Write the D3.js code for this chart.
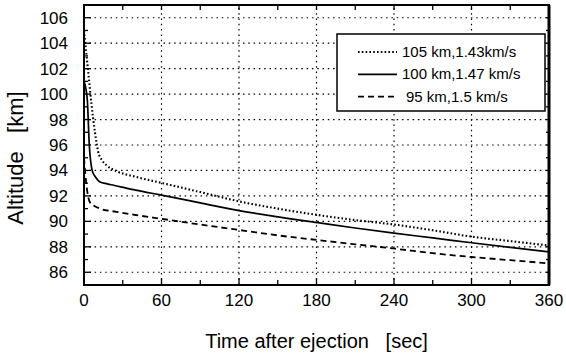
<!DOCTYPE html>
<html lang="en">
<head>
    <meta charset="UTF-8">
    <title>Altitude vs time after ejection</title>
    <script src="https://d3js.org/d3.v7.min.js"></script>
    <style>
        body { margin: 0; background: #fff; }
        svg { display: block; font-family: "Liberation Sans", Arial, sans-serif; }
        .grid line { stroke: #000; stroke-width: 1.2; stroke-dasharray: 1.5,3.8; }
        .tick-label { font-size: 17px; fill: #000; }
    </style>
</head>
<body>
<svg id="chart" width="566" height="356"></svg>
<script>
    // time (sec) and altitude (km) for each run
    const t105 = [0, 1.5, 3.3, 5.9, 8.5, 11, 14, 17.5, 25, 40, 61, 90, 121, 150, 181, 210, 240, 270, 300, 330, 360];
    const alt105 = [105, 103.5, 101.7, 99.1, 97.0, 95.45, 94.8, 94.4, 93.95, 93.5, 93.0, 92.3, 91.55, 91.0, 90.5, 90.1, 89.75, 89.3, 88.8, 88.45, 88.1];

    const t100 = [0, 1.5, 2.6, 4.1, 5.9, 7, 8.5, 12.4, 18, 23, 40, 60, 90, 121, 150, 181, 210, 240, 270, 300, 330, 360];
    const alt100 = [101, 100.4, 99.5, 96.0, 94.2, 93.8, 93.55, 93.1, 92.95, 92.84, 92.45, 92.06, 91.45, 90.83, 90.35, 89.9, 89.48, 89.07, 88.7, 88.32, 87.95, 87.6];

    const t95 = [0, 1.5, 3.3, 4.6, 8, 12.4, 25, 40, 60, 90, 124.6, 150, 181, 210, 241, 270, 300, 330, 360];
    const alt95 = [95, 93.2, 91.9, 91.5, 91.2, 91.0, 90.75, 90.5, 90.2, 89.75, 89.26, 88.9, 88.53, 88.2, 87.85, 87.5, 87.2, 86.95, 86.7];

    const xTicks = [0, 60, 120, 180, 240, 300, 360];
    const yTicks = [86, 88, 90, 92, 94, 96, 98, 100, 102, 104, 106];
    const labels = ["105 km,1.43km/s", "100 km,1.47 km/s", "95 km,1.5 km/s"];
    const dashes = ["1.6,2.2", null, "6,4"];

    const series = [
        { name: labels[0], dash: dashes[0], width: 2.1, pts: t105.map((t, i) => [t, alt105[i]]) },
        { name: labels[1], dash: dashes[1], width: 1.7, pts: t100.map((t, i) => [t, alt100[i]]) },
        { name: labels[2], dash: dashes[2], width: 1.8, pts: t95.map((t, i) => [t, alt95[i]]) }
    ];

    const margin = { top: 5, right: 17, bottom: 71, left: 84 };
    const width = 566, height = 356;
    const svg = d3.select("#chart");

    const x = d3.scaleLinear().domain([0, 360]).range([margin.left, width - margin.right]);
    const y = d3.scaleLinear().domain([85, 107]).range([height - margin.bottom, margin.top]);

    // grid
    const grid = svg.append("g").attr("class", "grid");
    grid.selectAll(".gx").data(xTicks.slice(1, -1)).enter().append("line")
        .attr("x1", d => x(d)).attr("x2", d => x(d))
        .attr("y1", y(85)).attr("y2", y(107));
    grid.selectAll(".gy").data(yTicks).enter().append("line")
        .attr("x1", x(0)).attr("x2", x(360))
        .attr("y1", d => y(d)).attr("y2", d => y(d));

    // inner ticks (major + minor) on all sides
    const ticks = svg.append("g").attr("stroke", "#000").attr("stroke-width", 1.3);
    d3.range(86, 107, 1).forEach(v => {
        const len = v % 2 === 0 ? 7 : 4;
        ticks.append("line").attr("x1", x(0)).attr("x2", x(0) + len).attr("y1", y(v)).attr("y2", y(v));
        ticks.append("line").attr("x1", x(360)).attr("x2", x(360) - 3).attr("y1", y(v)).attr("y2", y(v));
    });
    d3.range(30, 360, 30).forEach(t => {
        const len = t % 60 === 0 ? 7 : 5;
        ticks.append("line").attr("x1", x(t)).attr("x2", x(t)).attr("y1", y(85)).attr("y2", y(85) - len);
        ticks.append("line").attr("x1", x(t)).attr("x2", x(t)).attr("y1", y(107)).attr("y2", y(107) + 5);
    });

    // curves
    const line = d3.line().x(d => x(d[0])).y(d => y(d[1])).curve(d3.curveMonotoneX);
    svg.append("g").selectAll("path").data(series).enter().append("path")
        .attr("d", d => line(d.pts))
        .attr("fill", "none")
        .attr("stroke", "#000")
        .attr("stroke-width", d => d.width)
        .attr("stroke-dasharray", d => d.dash);

    // frame
    svg.append("rect")
        .attr("x", x(0)).attr("y", y(107))
        .attr("width", x(360) - x(0)).attr("height", y(85) - y(107))
        .attr("fill", "none").attr("stroke", "#000").attr("stroke-width", 2);
    svg.append("line").attr("x1", x(360)).attr("x2", x(360)).attr("y1", y(107)).attr("y2", y(85))
        .attr("stroke", "#000").attr("stroke-width", 3);

    // tick labels
    svg.append("g").selectAll("text").data(xTicks).enter().append("text")
        .attr("class", "tick-label")
        .attr("x", d => x(d)).attr("y", 306)
        .attr("text-anchor", "middle")
        .text(d => d);
    svg.append("g").selectAll("text").data(yTicks).enter().append("text")
        .attr("class", "tick-label")
        .attr("x", 68).attr("y", d => y(d) + 6)
        .attr("text-anchor", "end")
        .text(d => d);

    // axis titles
    svg.append("text")
        .attr("x", (x(0) + x(360)) / 2).attr("y", 348)
        .attr("text-anchor", "middle")
        .attr("font-size", "20px")
        .attr("xml:space", "preserve")
        .text("Time after ejection   [sec]");
    svg.append("text")
        .attr("transform", "translate(23,158) rotate(-90)")
        .attr("text-anchor", "middle")
        .attr("font-size", "22px")
        .attr("xml:space", "preserve")
        .text("Altitude   [km]");

    // legend
    const legend = svg.append("g");
    legend.append("rect")
        .attr("x", 337).attr("y", 34).attr("width", 208).attr("height", 77)
        .attr("fill", "#fff").attr("stroke", "#000").attr("stroke-width", 1.5);
    series.forEach((s, i) => {
        const ly = 52 + i * 22.3;
        legend.append("line")
            .attr("x1", 358).attr("x2", 397).attr("y1", ly).attr("y2", ly)
            .attr("stroke", "#000").attr("stroke-width", s.width)
            .attr("stroke-dasharray", s.dash);
        legend.append("text")
            .attr("x", i === 2 ? 406 : 402).attr("y", ly + 5)
            .attr("font-size", "15px")
            .text(s.name);
    });
</script>
</body>
</html>
